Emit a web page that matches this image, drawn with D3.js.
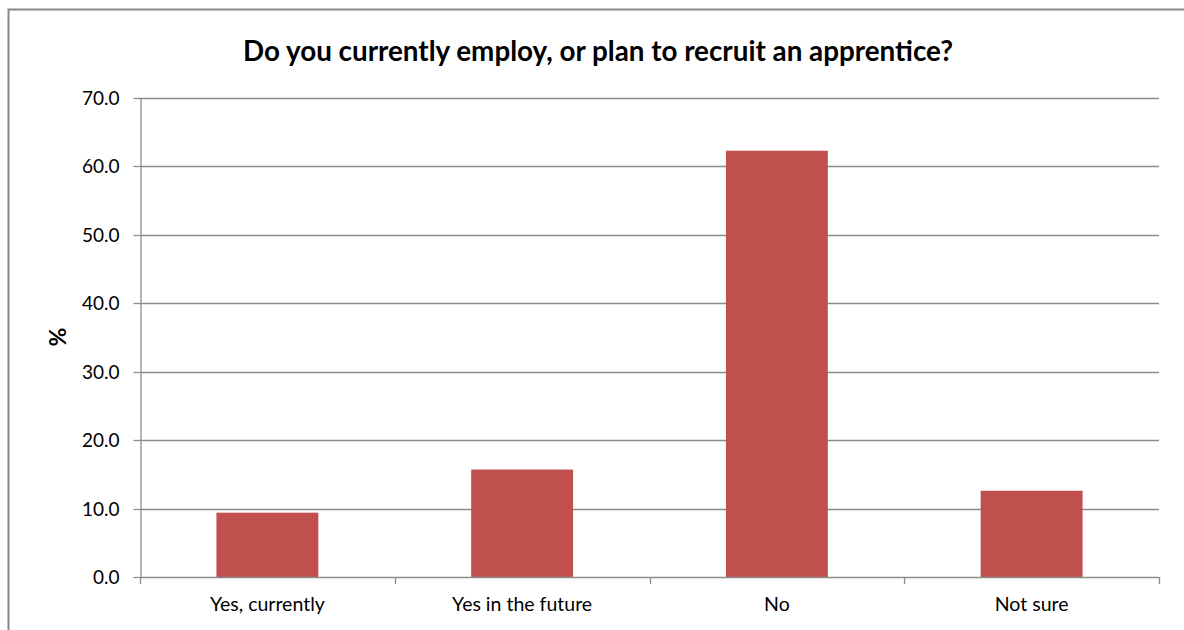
<!DOCTYPE html>
<html>
<head>
<meta charset="utf-8">
<script src="https://cdn.jsdelivr.net/npm/d3@7/dist/d3.min.js"></script>
<style>
  html, body { margin: 0; padding: 0; background: #fff; }
  svg { display: block; }
  text { font-family: Lato, "Open Sans", "Liberation Sans", sans-serif; fill: #000; }
</style>
</head>
<body>
<svg id="chart" width="1184" height="630"></svg>
<script>
// Survey responses (% of respondents)
const categories = ["Yes, currently", "Yes in the future", "No", "Not sure"];
const values = [9.4, 15.7, 62.3, 12.6];
const yTicks = [0, 10, 20, 30, 40, 50, 60, 70];
const title = "Do you currently employ, or plan to recruit an apprentice?";
const yLabel = "%";

const svg = d3.select("#chart");
const plot = { left: 140, right: 1159, top: 98, bottom: 577 };

// Outer chart frame
svg.append("rect")
  .attr("x", 8.5).attr("y", 9.5)
  .attr("width", 1190).attr("height", 640)
  .attr("fill", "none").attr("stroke", "#888").attr("stroke-width", 2);

const x = d3.scaleBand().domain(categories)
  .range([plot.left, plot.right]).paddingInner(0.6).paddingOuter(0.3);
const xOuter = d3.scaleBand().domain(categories).range([plot.left, plot.right]);
const y = d3.scaleLinear().domain([0, 70]).range([plot.bottom, plot.top]);

// Horizontal gridlines
svg.append("g").selectAll("line").data(yTicks.slice(1)).join("line")
  .attr("x1", plot.left).attr("x2", plot.right)
  .attr("y1", d => Math.round(y(d)) + 0.5).attr("y2", d => Math.round(y(d)) + 0.5)
  .attr("stroke", "#8c8c8c").attr("stroke-width", 1.3);

// Bars
svg.append("g").selectAll("rect").data(values).join("rect")
  .attr("x", (d, i) => x(categories[i]))
  .attr("width", x.bandwidth())
  .attr("y", d => y(d))
  .attr("height", d => y(0) - y(d))
  .attr("fill", "#C0504D");

// Y axis
const yAxis = d3.axisLeft(y).tickValues(yTicks).tickFormat(d3.format(".1f"))
  .tickSize(7).tickSizeOuter(0).tickPadding(14);
const gy = svg.append("g").attr("transform", `translate(${plot.left + 0.5},0.5)`).call(yAxis);
gy.selectAll("line, path").attr("stroke", "#8c8c8c").attr("stroke-width", 1.3);
gy.selectAll("text").style("font-size", "19px").attr("fill", "#000")
  .style("font-family", "Lato, 'Open Sans', sans-serif");
gy.selectAll(".tick").attr("transform", d => `translate(0,${Math.round(y(d))})`);

// X axis baseline and category boundary ticks
const gx = svg.append("g");
gx.append("line")
  .attr("x1", plot.left).attr("x2", plot.right)
  .attr("y1", plot.bottom + 0.5).attr("y2", plot.bottom + 0.5)
  .attr("stroke", "#8c8c8c").attr("stroke-width", 1.3);
const bounds = [plot.left].concat(categories.map(c => xOuter(c) + xOuter.bandwidth()));
gx.selectAll("line.tk").data(bounds).join("line").attr("class", "tk")
  .attr("x1", d => Math.round(d) + 0.5).attr("x2", d => Math.round(d) + 0.5)
  .attr("y1", plot.bottom).attr("y2", plot.bottom + 7)
  .attr("stroke", "#8c8c8c").attr("stroke-width", 1.3);
gx.selectAll("text").data(categories).join("text")
  .attr("x", d => xOuter(d) + xOuter.bandwidth() / 2)
  .attr("y", 611)
  .attr("text-anchor", "middle")
  .style("font-size", "19.5px")
  .text(d => d);

// Title
svg.append("text")
  .attr("x", 598).attr("y", 61)
  .attr("text-anchor", "middle")
  .style("font-size", "27.8px").style("font-weight", "bold")
  .text(title);

// Y axis label
svg.append("text")
  .attr("transform", "translate(66,337) rotate(-90)")
  .attr("text-anchor", "middle")
  .style("font-size", "23px").style("font-weight", "bold")
  .text(yLabel);
</script>
</body>
</html>
